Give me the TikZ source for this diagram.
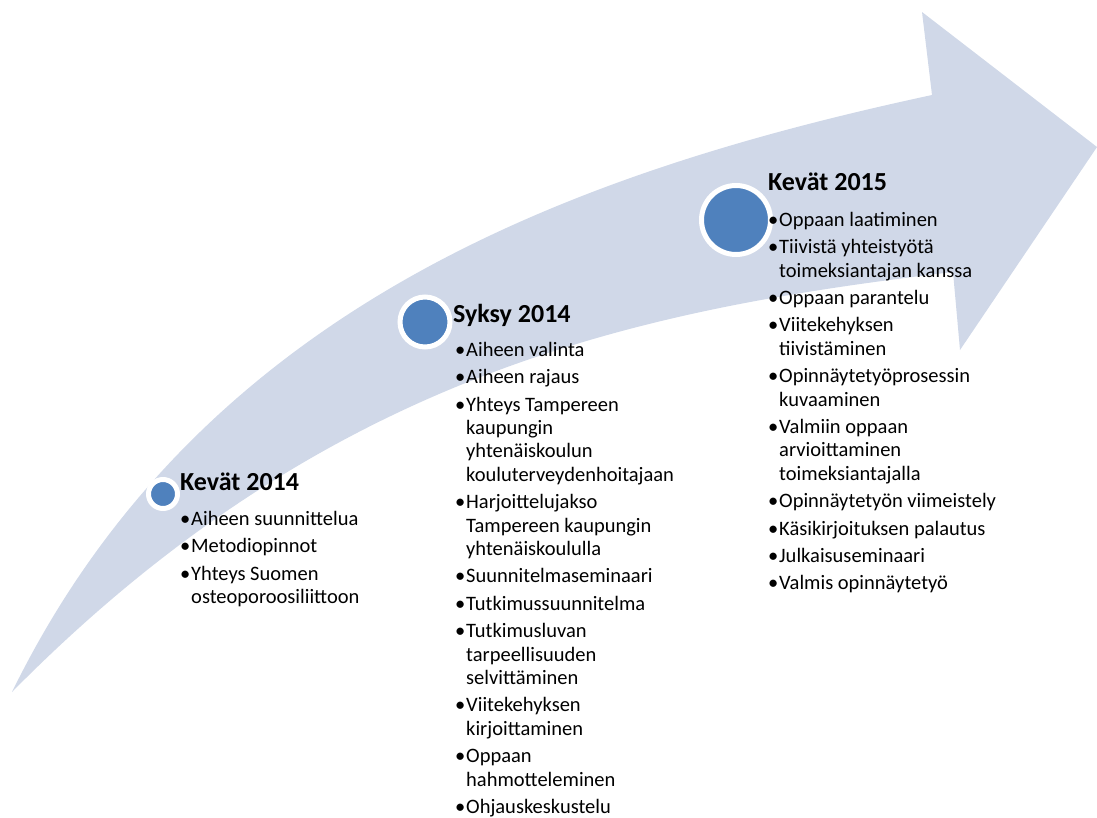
\documentclass[tikz,border=0pt]{standalone}
\usepackage{fontspec}
\setmainfont{Carlito}
\usetikzlibrary{positioning}
\definecolor{bandblue}{RGB}{208,216,232}
\definecolor{dotblue}{RGB}{79,129,189}
\newcommand{\bl}{\makebox[11pt][l]{\textbullet}}
\newcommand{\ct}{\hspace*{11pt}}
\newcommand{\firstline}{\rule{0pt}{16pt}}
\tikzset{
  band/.style={fill=bandblue},
  dot/.style={
    circle,
    fill=dotblue,
    draw=white,
    line width=5pt,
    inner sep=0pt
  },
  phase/.style={
    inner sep=0pt,
    anchor=base west,
    font=\fontsize{26}{30}\selectfont\bfseries
  },
  tasks/.style={
    inner sep=0pt,
    align=left,
    font=\fontsize{20.5}{23.4}\selectfont
  }
}

\begin{document}
\begin{tikzpicture}[x=1pt,y=-1pt]
\useasboundingbox (0,0) rectangle (1097,817);

% the big arrow
\fill[band] (12,692) .. controls (201,306) and (574,172) .. (932,95)
  -- (922,12) -- (1097,147) -- (960,350) -- (953,272)
  .. controls (643,309) and (330,370) .. (12,692) -- cycle;

\node[dot, minimum size=29pt] (dot1) at (163,494) {};
\node[dot, minimum size=50pt] (dot2) at (425,322) {};
\node[dot, minimum size=69pt] (dot3) at (736,220) {};

% Kevät 2014
\node[phase] (phase1) at (180,490) {Kevät 2014};
\node[tasks, below=19pt of phase1.base west, anchor=north west] (tasks1) {
  \firstline\bl Aiheen suunnittelua\\[4pt]
  \bl Metodiopinnot\\[4pt]
  \bl Yhteys Suomen\\
  \ct osteoporoosiliittoon
};

% Syksy 2014
\node[phase] (phase2) at (453,322) {Syksy 2014};
\node[tasks, below=18pt of phase2.base west, anchor=north west, xshift=2pt] (tasks2) {
  \firstline\bl Aiheen valinta\\[4pt]
  \bl Aiheen rajaus\\[4pt]
  \bl Yhteys Tampereen\\
  \ct kaupungin\\
  \ct yhtenäiskoulun\\
  \ct kouluterveydenhoitajaan\\[4pt]
  \bl Harjoittelujakso\\
  \ct Tampereen kaupungin\\
  \ct yhtenäiskoululla\\[4pt]
  \bl Suunnitelmaseminaari\\[4pt]
  \bl Tutkimussuunnitelma\\[4pt]
  \bl Tutkimusluvan\\
  \ct tarpeellisuuden\\
  \ct selvittäminen\\[4pt]
  \bl Viitekehyksen\\
  \ct kirjoittaminen\\[4pt]
  \bl Oppaan\\
  \ct hahmotteleminen\\[4pt]
  \bl Ohjauskeskustelu
};

% Kevät 2015
\node[phase] (phase3) at (768,190) {Kevät 2015};
\node[tasks, below=20pt of phase3.base west, anchor=north west] (tasks3) {
  \firstline\bl Oppaan laatiminen\\[4pt]
  \bl Tiivistä yhteistyötä\\
  \ct toimeksiantajan kanssa\\[4pt]
  \bl Oppaan parantelu\\[4pt]
  \bl Viitekehyksen\\
  \ct tiivistäminen\\[4pt]
  \bl Opinnäytetyöprosessin\\
  \ct kuvaaminen\\[4pt]
  \bl Valmiin oppaan\\
  \ct arvioittaminen\\
  \ct toimeksiantajalla\\[4pt]
  \bl Opinnäytetyön viimeistely\\[4pt]
  \bl Käsikirjoituksen palautus\\[4pt]
  \bl Julkaisuseminaari\\[4pt]
  \bl Valmis opinnäytetyö
};

\end{tikzpicture}
\end{document}
